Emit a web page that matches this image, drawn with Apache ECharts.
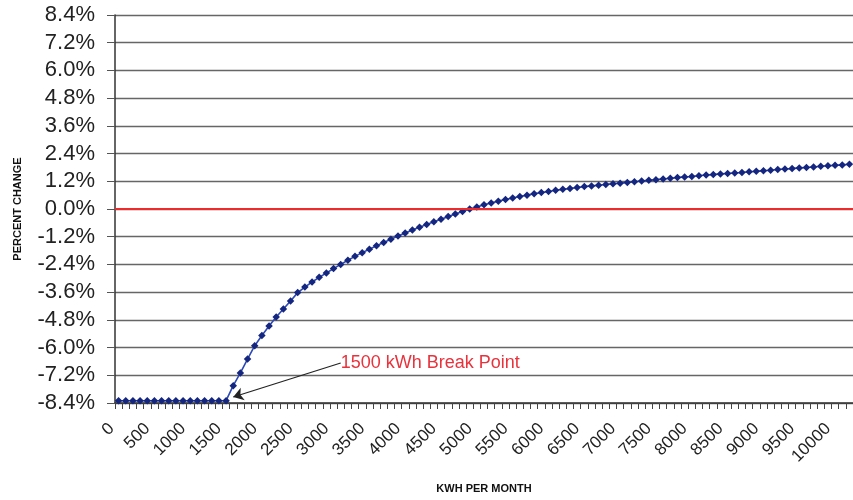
<!DOCTYPE html>
<html>
<head>
<meta charset="utf-8">
<title>Percent change by kWh per month</title>
<script src="https://cdn.jsdelivr.net/npm/echarts@6/dist/echarts.min.js"></script>
<style>
  html, body { margin: 0; padding: 0; background: #fff; }
  #chart { width: 853px; height: 500px; }
</style>
</head>
<body>
<div id="chart"></div>
<script>
// monthly usage, one point every 100 kWh (the picture is cut off past ~10200)
var kwh = [
  "0", "100", "200", "300", "400", "500", "600", "700", "800", "900",
  "1000", "1100", "1200", "1300", "1400", "1500", "1600", "1700", "1800", "1900",
  "2000", "2100", "2200", "2300", "2400", "2500", "2600", "2700", "2800", "2900",
  "3000", "3100", "3200", "3300", "3400", "3500", "3600", "3700", "3800", "3900",
  "4000", "4100", "4200", "4300", "4400", "4500", "4600", "4700", "4800", "4900",
  "5000", "5100", "5200", "5300", "5400", "5500", "5600", "5700", "5800", "5900",
  "6000", "6100", "6200", "6300", "6400", "6500", "6600", "6700", "6800", "6900",
  "7000", "7100", "7200", "7300", "7400", "7500", "7600", "7700", "7800", "7900",
  "8000", "8100", "8200", "8300", "8400", "8500", "8600", "8700", "8800", "8900",
  "9000", "9100", "9200", "9300", "9400", "9500", "9600", "9700", "9800", "9900",
  "10000", "10100", "10200"
];

// percent change
var percentChange = [
  -8.3, -8.3, -8.3, -8.3, -8.3, -8.3, -8.3, -8.3, -8.3, -8.3,
  -8.3, -8.3, -8.3, -8.3, -8.3, -8.3, -7.65, -7.1, -6.5, -5.92,
  -5.48, -5.07, -4.68, -4.33, -3.98, -3.62, -3.38, -3.16, -2.96, -2.77,
  -2.58, -2.4, -2.22, -2.05, -1.89, -1.74, -1.59, -1.45, -1.31, -1.17,
  -1.04, -0.91, -0.79, -0.67, -0.55, -0.44, -0.33, -0.22, -0.11, 0.0,
  0.09, 0.18, 0.26, 0.34, 0.41, 0.48, 0.54, 0.6, 0.66, 0.71,
  0.76, 0.81, 0.85, 0.89, 0.93, 0.97, 1.0, 1.03, 1.06, 1.09,
  1.12, 1.15, 1.18, 1.21, 1.24, 1.27, 1.3, 1.33, 1.36, 1.39,
  1.41, 1.44, 1.47, 1.49, 1.52, 1.54, 1.56, 1.58, 1.61, 1.63,
  1.66, 1.68, 1.71, 1.73, 1.75, 1.78, 1.8, 1.82, 1.85, 1.87,
  1.89, 1.91, 1.94
];

// y axis range and step
var yMin = -8.4, yMax = 8.4, yStep = 1.2;
var zeroLevel = 0;

// callout: text sits at arrowFrom, arrow points at arrowTo
var breakPointText = "1500 kWh Break Point";
var arrowFrom = ["3100", -6.67];
var arrowTo = ["1600", -8.14];

var font = "'Liberation Sans', Arial, Helvetica, sans-serif";
var chart = echarts.init(document.getElementById("chart"), null, { renderer: "canvas" });

var option = {
  animation: false,
  backgroundColor: "#fff",
  grid: { left: 115, right: 0, top: 15, bottom: 97, outerBoundsMode: "none" },
  xAxis: {
    type: "category",
    data: kwh,
    boundaryGap: true,
    name: "KWH PER MONTH",
    nameLocation: "middle",
    nameGap: 80,
    nameTextStyle: { fontFamily: font, fontWeight: "bold", fontSize: 11, color: "#111" },
    axisLine: { show: true, onZero: false, lineStyle: { color: "#333", width: 1.5 } },
    axisTick: { show: true, interval: 0, length: 6, lineStyle: { color: "#444" } },
    splitLine: { show: false },
    axisLabel: {
      interval: 4,
      rotate: 45,
      margin: 16,
      padding: [0, 10, 0, 0],
      fontFamily: font,
      fontSize: 17,
      color: "#222"
    }
  },
  yAxis: {
    type: "value",
    min: yMin,
    max: yMax,
    interval: yStep,
    name: "PERCENT CHANGE",
    nameLocation: "middle",
    nameRotate: 90,
    nameGap: 92,
    nameTextStyle: { fontFamily: font, fontWeight: "bold", fontSize: 11, color: "#111" },
    axisLine: { show: true, lineStyle: { color: "#333", width: 1.5 } },
    axisTick: { show: true, length: 8, lineStyle: { color: "#555" } },
    splitLine: { show: true, lineStyle: { color: "#666", width: 1.3 } },
    axisLabel: {
      margin: 20,
      fontFamily: font,
      fontSize: 22,
      color: "#222",
      formatter: function (v) {
        if (Math.abs(v) < 1e-9) v = 0;
        return v.toFixed(1) + "%";
      }
    }
  },
  series: [
    {
      // red zero line
      type: "line",
      data: [],
      z: 1,
      markLine: {
        silent: true,
        symbol: "none",
        label: { show: false },
        lineStyle: { color: "#ee2a2a", width: 2.2, type: "solid" },
        data: [{ yAxis: zeroLevel }]
      }
    },
    {
      name: "Percent change",
      type: "line",
      data: percentChange,
      z: 3,
      showAllSymbol: true,
      symbol: "diamond",
      symbolSize: 7.5,
      itemStyle: { color: "#14267f" },
      lineStyle: { color: "#2d49b8", width: 1.6 }
    },
    {
      // break point callout
      type: "line",
      data: [],
      z: 4,
      markLine: {
        silent: true,
        symbol: ["none", "arrow"],
        symbolSize: 10,
        label: { show: false },
        lineStyle: { color: "#222", width: 1.2, type: "solid" },
        data: [[{ coord: arrowFrom }, { coord: arrowTo }]]
      },
      markPoint: {
        silent: true,
        symbol: "circle",
        symbolSize: 0,
        label: {
          show: true,
          position: "right",
          distance: 0,
          formatter: breakPointText,
          fontFamily: font,
          fontSize: 18,
          color: "#e8323c"
        },
        data: [{ coord: arrowFrom }]
      }
    }
  ]
};

chart.setOption(option);
</script>
</body>
</html>
